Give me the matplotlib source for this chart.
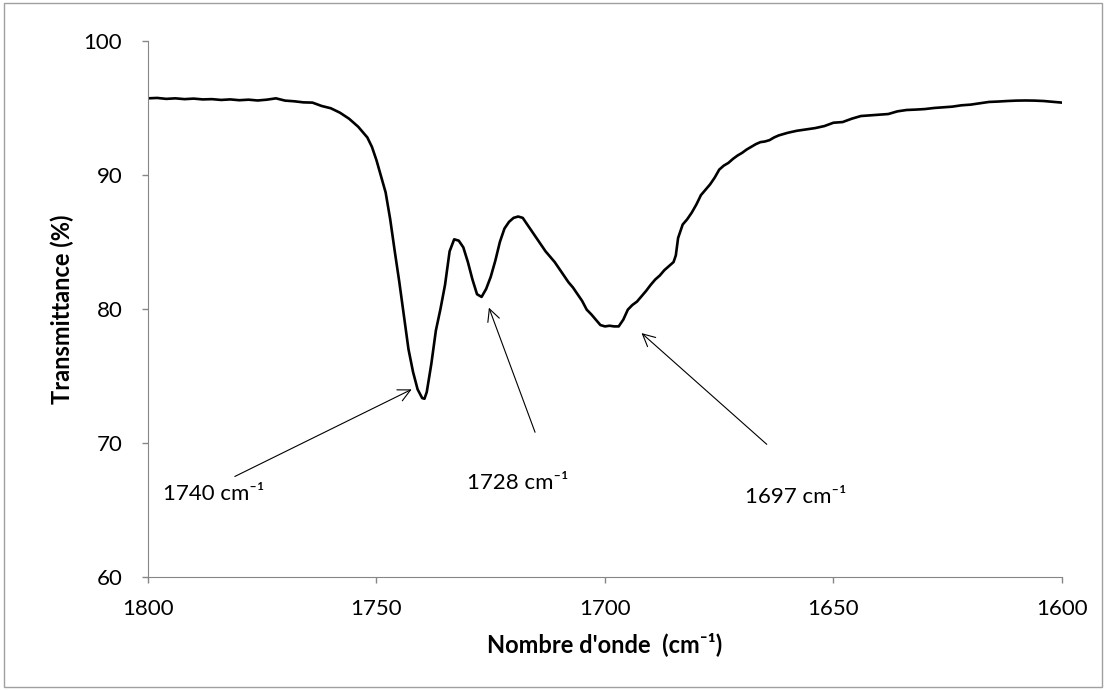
import numpy as np
import matplotlib
matplotlib.use('Agg')
import matplotlib.pyplot as plt
from matplotlib.patches import Rectangle

plt.rcParams['font.family'] = ['Lato', 'DejaVu Sans']

# IR spectrum, carbonyl region
wavenumber = [1800, 1798, 1796, 1794, 1792, 1790, 1788, 1786, 1784, 1782, 1780, 1778, 1776, 1774,
              1772, 1770, 1768, 1766, 1764, 1762, 1760, 1758, 1756, 1754, 1753, 1752, 1751, 1750,
              1749, 1748, 1747, 1746, 1745, 1744, 1743, 1742, 1741, 1740, 1739.5, 1739, 1738, 1737,
              1736, 1735, 1734, 1733, 1732, 1731, 1730, 1729, 1728, 1727, 1726, 1725, 1724, 1723,
              1722, 1721, 1720, 1719, 1718, 1717, 1716, 1715, 1714, 1713, 1712, 1711, 1710, 1709,
              1708, 1707, 1706, 1705, 1704, 1703, 1702, 1701, 1700, 1699, 1698, 1697, 1696, 1695,
              1694, 1693, 1692, 1691, 1690, 1689, 1688, 1687, 1686, 1685, 1684.5, 1684, 1683, 1682,
              1681, 1680, 1679, 1678, 1677, 1676, 1675, 1674, 1673, 1672, 1671, 1670, 1669, 1668,
              1667, 1666, 1665, 1664, 1663, 1662, 1661, 1660, 1658, 1656, 1654, 1652, 1650, 1648,
              1646, 1644, 1642, 1640, 1638, 1636, 1634, 1632, 1630, 1628, 1626, 1624, 1622, 1620,
              1618, 1616, 1614, 1612, 1610, 1608, 1606, 1604, 1602, 1600]
transmittance = [95.72, 95.75, 95.68, 95.72, 95.66, 95.70, 95.64, 95.66, 95.60, 95.64, 95.58, 95.62, 95.56, 95.62,
                 95.72, 95.55, 95.50, 95.42, 95.40, 95.15, 94.98, 94.65, 94.20, 93.60, 93.20, 92.80, 92.10, 91.10,
                 89.90, 88.70, 86.70, 84.30, 82.00, 79.50, 77.00, 75.30, 74.00, 73.35, 73.30, 73.80, 75.90, 78.40,
                 80.00, 81.80, 84.30, 85.20, 85.10, 84.60, 83.50, 82.20, 81.10, 80.90, 81.50, 82.40, 83.60, 85.00,
                 86.00, 86.50, 86.80, 86.90, 86.80, 86.30, 85.80, 85.30, 84.80, 84.30, 83.90, 83.50, 83.00, 82.50,
                 82.00, 81.60, 81.10, 80.60, 79.95, 79.60, 79.20, 78.80, 78.70, 78.75, 78.70, 78.70, 79.20, 79.95,
                 80.30, 80.55, 80.95, 81.35, 81.80, 82.20, 82.50, 82.90, 83.20, 83.50, 84.00, 85.30, 86.30, 86.70,
                 87.20, 87.80, 88.50, 88.90, 89.30, 89.80, 90.40, 90.70, 90.90, 91.20, 91.45, 91.65, 91.90, 92.10,
                 92.30, 92.45, 92.50, 92.60, 92.80, 92.95, 93.05, 93.15, 93.30, 93.40, 93.50, 93.65, 93.90, 93.95,
                 94.20, 94.40, 94.45, 94.50, 94.55, 94.75, 94.85, 94.88, 94.92, 95.00, 95.05, 95.10, 95.20, 95.25,
                 95.35, 95.45, 95.48, 95.52, 95.55, 95.56, 95.55, 95.52, 95.46, 95.40]

x_ticks = [1800, 1750, 1700, 1650, 1600]
y_ticks = [60, 70, 80, 90, 100]

# peak labels: text, text position, arrow tail, arrow head
peak_labels = ['1740 cm⁻¹', '1728 cm⁻¹', '1697 cm⁻¹']
label_pos = [(1796.7, 66.2), (1730.3, 67.0), (1669.4, 66.0)]
arrow_tail = [(1781.0, 67.5), (1715.3, 70.8), (1664.6, 69.9)]
arrow_head = [(1742.3, 74.0), (1725.4, 80.1), (1692.0, 78.2)]

fig = plt.figure(figsize=(11.06, 6.9), dpi=100)
ax = fig.add_axes([0.1338, 0.1638, 0.8264, 0.7768])

ax.plot(wavenumber, transmittance, color='black', lw=1.9, solid_joinstyle='round')

for txt, pos, tail, head in zip(peak_labels, label_pos, arrow_tail, arrow_head):
    ax.annotate('', xy=head, xytext=tail,
                arrowprops=dict(arrowstyle='->', color='black', lw=0.8,
                                mutation_scale=22, shrinkA=0, shrinkB=0))
    ax.text(pos[0], pos[1], txt, fontsize=16, ha='left', va='center')

ax.set_xlim(1800, 1600)
ax.set_ylim(60, 100)
ax.set_xticks(x_ticks)
ax.set_yticks(y_ticks)
ax.tick_params(axis='both', labelsize=16, color='#868686', length=4.5, width=1)
ax.tick_params(axis='x', pad=11)
ax.tick_params(axis='y', pad=14)

for side in ['top', 'right']:
    ax.spines[side].set_visible(False)
for side in ['left', 'bottom']:
    ax.spines[side].set_color('#868686')

ax.set_xlabel("Nombre d'onde  (cm⁻¹)", fontsize=17, fontweight='bold', labelpad=10)
ax.set_ylabel('Transmittance (%)', fontsize=17, fontweight='bold', labelpad=7)

# chart border
fig.patches.append(Rectangle((0.004, 0.005), 0.992, 0.99, transform=fig.transFigure,
                             fill=False, edgecolor='#a0a0a0', lw=1))

fig.savefig('out.png', dpi=100)
